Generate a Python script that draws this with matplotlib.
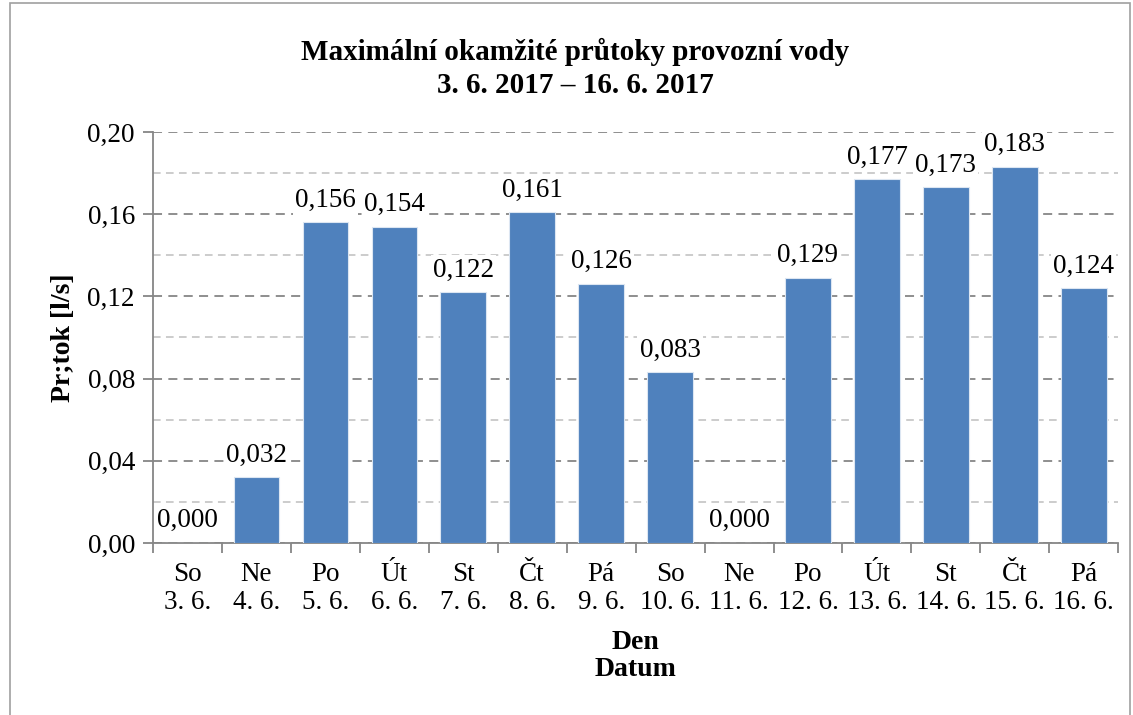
import matplotlib.pyplot as plt
from matplotlib.ticker import MultipleLocator, FuncFormatter
from matplotlib.patches import Rectangle

days = ['So', 'Ne', 'Po', 'Út', 'St', 'Čt', 'Pá', 'So', 'Ne', 'Po', 'Út', 'St', 'Čt', 'Pá']
dates = ['3. 6.', '4. 6.', '5. 6.', '6. 6.', '7. 6.', '8. 6.', '9. 6.',
         '10. 6.', '11. 6.', '12. 6.', '13. 6.', '14. 6.', '15. 6.', '16. 6.']
flow = [0.000, 0.032, 0.156, 0.154, 0.122, 0.161, 0.126,
        0.083, 0.000, 0.129, 0.177, 0.173, 0.183, 0.124]

plt.rcParams['font.family'] = ['Liberation Serif', 'DejaVu Serif']
plt.rcParams['font.size'] = 19.5

fig = plt.figure(figsize=(11.33, 7.15), dpi=100)
ax = fig.add_axes([0.135, 0.2406, 0.852, 0.5748])

x = list(range(len(flow)))
ax.bar(x, flow, width=0.66, color='#4F81BD', edgecolor='#dce6f2', linewidth=0.8, zorder=3)

ax.set_xlim(-0.5, len(flow) - 0.5)
ax.set_ylim(0, 0.2)
ax.yaxis.set_major_locator(MultipleLocator(0.04))
ax.yaxis.set_minor_locator(MultipleLocator(0.02))
ax.yaxis.set_major_formatter(FuncFormatter(lambda v, p: f'{v:.2f}'.replace('.', ',')))
ax.grid(which='major', axis='y', color='#868686', linestyle=(0, (5, 3.5)), linewidth=1.3, zorder=0)
ax.grid(which='minor', axis='y', color='#bfbfbf', linestyle=(0, (5, 3.5)), linewidth=1.1, zorder=0)

ax.set_xticks(x)
ax.set_xticklabels([f'{d}\n{t}' for d, t in zip(days, dates)], linespacing=1.12)
ax.tick_params(axis='x', length=0, pad=14)
ax.set_xticks([i - 0.5 for i in range(len(flow) + 1)], minor=True)
ax.tick_params(axis='x', which='minor', length=7, color='#868686', width=1.3)
ax.tick_params(axis='y', which='major', length=7, color='#868686', width=1.3, pad=6)
ax.tick_params(axis='y', which='minor', length=0)

for s in ['top', 'right']:
    ax.spines[s].set_visible(False)
for s in ['left', 'bottom']:
    ax.spines[s].set_color('#868686')
    ax.spines[s].set_linewidth(1.3)

for xi, v in zip(x, flow):
    ax.annotate(f'{v:.3f}'.replace('.', ','), (xi, v), xytext=(0, 7), textcoords='offset points',
                ha='center', va='bottom', zorder=4,
                bbox=dict(boxstyle='square,pad=0.08', fc='white', ec='none'))

ax.set_ylabel('Pr;tok [l/s]', fontweight='bold', fontsize=20, labelpad=8)
ax.set_xlabel('Den\nDatum', fontweight='bold', fontsize=20, labelpad=11, linespacing=1.1)
fig.text(0.5075, 1 - 60 / 715, 'Maximální okamžité průtoky provozní vody',
         fontweight='bold', fontsize=21, ha='center', va='baseline')
fig.text(0.5075, 1 - 93 / 715, '3. 6. 2017 – 16. 6. 2017',
         fontweight='bold', fontsize=21, ha='center', va='baseline')

fig.patches.append(Rectangle((0.009, -0.01), 0.988, 1.006, transform=fig.transFigure,
                             fill=False, edgecolor='#a0a0a0', linewidth=1.2))

fig.savefig('out.png', dpi=100)
